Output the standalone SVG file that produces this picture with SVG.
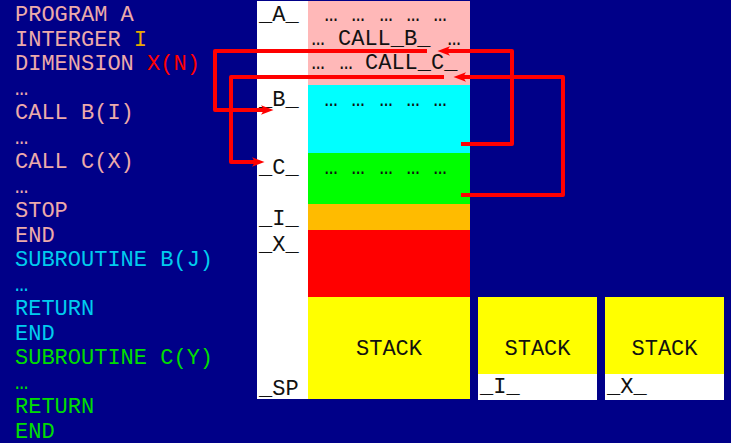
<svg xmlns="http://www.w3.org/2000/svg" width="731" height="443" viewBox="0 0 731 443">
<style>
.t{font-family:"Liberation Mono","Courier New",monospace;font-size:22px;}
.k{fill:#111111;}
.pk{fill:#ECAAAA;}
.cy{fill:#00CCEE;}
.gr{fill:#00DD00;}
.or{fill:#E8A800;}
.rd{fill:#FF0000;}
.m{text-anchor:middle;}
.conn{fill:none;stroke:#FF0000;stroke-width:4;stroke-linejoin:round;marker-end:url(#ah);}
</style>
<defs>
<marker id="ah" markerUnits="userSpaceOnUse" markerWidth="14" markerHeight="12" viewBox="0 -6 14 12" refX="3" refY="0" orient="auto">
<path d="M0,-4.8 L12.5,0 L0,4.8 L3,0 z" fill="#FF0000"/>
</marker>
</defs>
<rect x="0" y="0" width="731" height="443" fill="#000088"/>

<g id="code" class="t">
<text x="15" y="21" class="pk">PROGRAM A</text>
<text x="15" y="45.5" class="pk">INTERGER <tspan class="or">I</tspan></text>
<text x="15" y="70" class="pk">DIMENSION <tspan class="rd">X(N)</tspan></text>
<text x="15" y="94.5" class="pk">…</text>
<text x="15" y="119" class="pk">CALL B(I)</text>
<text x="15" y="143.5" class="pk">…</text>
<text x="15" y="168" class="pk">CALL C(X)</text>
<text x="15" y="192.5" class="pk">…</text>
<text x="15" y="217" class="pk">STOP</text>
<text x="15" y="241.5" class="pk">END</text>
<text x="15" y="266" class="cy">SUBROUTINE B(J)</text>
<text x="15" y="290.5" class="cy">…</text>
<text x="15" y="315" class="cy">RETURN</text>
<text x="15" y="339.5" class="cy">END</text>
<text x="15" y="364" class="gr">SUBROUTINE C(Y)</text>
<text x="15" y="388.5" class="gr">…</text>
<text x="15" y="413" class="gr">RETURN</text>
<text x="15" y="437.5" class="gr">END</text>
</g>

<g id="labels" class="t k">
<rect x="257" y="1" width="51" height="398" fill="#FFFFFF"/>
<text x="259" y="21">_A_</text>
<text x="259" y="106">_B_</text>
<text x="259" y="174">_C_</text>
<text x="259" y="225">_I_</text>
<text x="259" y="251">_X_</text>
<text x="259" y="395">_SP</text>
</g>

<g id="segA" class="t k">
<rect x="308" y="1" width="162" height="84" fill="#FFB8B8"/>
<text x="331" y="21" class="m">…</text>
<text x="358" y="21" class="m">…</text>
<text x="386" y="21" class="m">…</text>
<text x="413" y="21" class="m">…</text>
<text x="440" y="21" class="m">…</text>
<text x="318" y="45" class="m">…</text>
<text x="338" y="45">CALL_B_</text>
<text x="454" y="45" class="m">…</text>
<text x="318" y="69" class="m">…</text>
<text x="346" y="69" class="m">…</text>
<text x="365" y="69">CALL_C_</text>
</g>

<g id="segB" class="t k">
<rect x="308" y="85" width="162" height="68" fill="#00FFFF"/>
<text x="331" y="106" class="m">…</text>
<text x="358" y="106" class="m">…</text>
<text x="386" y="106" class="m">…</text>
<text x="413" y="106" class="m">…</text>
<text x="440" y="106" class="m">…</text>
</g>

<g id="segC" class="t k">
<rect x="308" y="153" width="162" height="51" fill="#00FF00"/>
<text x="331" y="174" class="m">…</text>
<text x="358" y="174" class="m">…</text>
<text x="386" y="174" class="m">…</text>
<text x="413" y="174" class="m">…</text>
<text x="440" y="174" class="m">…</text>
</g>

<g id="segI">
<rect x="308" y="204" width="162" height="26" fill="#FFBB00"/>
</g>

<g id="segX">
<rect x="308" y="230" width="162" height="67" fill="#FF0000"/>
</g>

<g id="stack" class="t k">
<rect x="308" y="297" width="162" height="102" fill="#FFFF00"/>
<text x="389" y="355" class="m">STACK</text>
</g>

<g id="stackB" class="t k">
<rect x="478" y="297" width="119" height="77" fill="#FFFF00"/>
<rect x="478" y="374" width="119" height="26" fill="#FFFFFF"/>
<text x="537.5" y="355" class="m">STACK</text>
<text x="480" y="393">_I_</text>
</g>

<g id="stackC" class="t k">
<rect x="605" y="297" width="119" height="77" fill="#FFFF00"/>
<rect x="605" y="374" width="119" height="26" fill="#FFFFFF"/>
<text x="664.5" y="355" class="m">STACK</text>
<text x="607" y="393">_X_</text>
</g>

<g id="connectors">
<path class="conn" d="M427,51 H215 V110 H264"/>
<path class="conn" d="M444,77 H231 V162 H255"/>
<path class="conn" d="M461,144 H512 V51 H447"/>
<path class="conn" d="M461,195 H563 V77 H463"/>
</g>
</svg>
